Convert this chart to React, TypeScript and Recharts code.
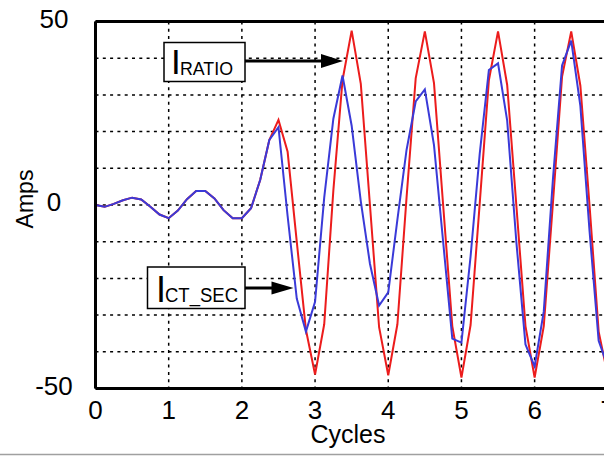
import { LineChart, Line, XAxis, YAxis, CartesianGrid, ReferenceLine } from 'recharts'

const FONT = '"Liberation Sans", Arial, sans-serif'

// time axis, 8 samples per cycle
const CYCLES = [
  0, 0.125, 0.25, 0.375, 0.5, 0.625, 0.75, 0.875,
  1, 1.125, 1.25, 1.375, 1.5, 1.625, 1.75, 1.875,
  2, 2.125, 2.25, 2.375, 2.5, 2.625, 2.75, 2.875,
  3, 3.125, 3.25, 3.375, 3.5, 3.625, 3.75, 3.875,
  4, 4.125, 4.25, 4.375, 4.5, 4.625, 4.75, 4.875,
  5, 5.125, 5.25, 5.375, 5.5, 5.625, 5.75, 5.875,
  6, 6.125, 6.25, 6.375, 6.5, 6.625, 6.75, 6.875,
  7, 7.125, 7.25,
]

const I_RATIO = [
  0, -0.5, 0.3, 1.3, 2.0, 1.5, -0.5, -2.6,
  -3.6, -1.5, 1.6, 3.8, 3.8, 1.8, -1.4, -3.6,
  -3.6, -0.9, 6.8, 17.7, 23.2, 14.5, -10, -34,
  -46.2, -32.5, 4, 34, 47.5, 33, 0, -33.3,
  -46.4, -32.5, 2, 34.5, 47.3, 33.2, 0, -33,
  -47, -32.7, 0.5, 34, 47.3, 32.7, 0, -33,
  -47, -33, 0.5, 35, 47.3, 32.5, 0, -34.5,
  -46.5, -33, 0,
]

const I_CT_SEC = [
  0, -0.5, 0.3, 1.3, 2.0, 1.5, -0.5, -2.6,
  -3.6, -1.5, 1.6, 3.8, 3.8, 1.8, -1.4, -3.6,
  -3.6, -0.9, 6.8, 17.7, 21.2, -3, -25.5, -34.5,
  -26.4, 2, 23.5, 35.3, 21.6, 1, -16, -27.4,
  -23.8, -4, 15, 28.2, 31.5, 16.3, -10, -36.4,
  -37.5, -14, 14, 36.8, 38.6, 23, -10, -38,
  -44, -29, 7, 38, 44.8, 27, -7, -37,
  -44, -30, 5,
]

const X_TICKS = [0, 1, 2, 3, 4, 5, 6, 7, 8]
const Y_TICKS = [-50, -40, -30, -20, -10, 0, 10, 20, 30, 40, 50]
const Y_LABELS = [-50, 0, 50]

const data = CYCLES.map((t, i) => ({ t, ratio: I_RATIO[i], ct: I_CT_SEC[i] }))

function XTick(props: any) {
  const { x, y, payload } = props
  return (
    <text x={x} y={y + 30.5} textAnchor="middle" fontSize={26} fontFamily={FONT} fill="#000">
      {payload.value}
    </text>
  )
}

function YTick(props: any) {
  const { x, y, payload } = props
  if (!Y_LABELS.includes(payload.value)) return <g />
  return (
    <text x={x - 41.5} y={y + 6.3} textAnchor="middle" fontSize={26} fontFamily={FONT} fill="#000">
      {payload.value}
    </text>
  )
}

function Annotations() {
  return (
    <svg
      width={604}
      height={456}
      style={{ position: 'absolute', left: 0, top: 0, pointerEvents: 'none' }}
      fontFamily={FONT}
    >
      <text x={348} y={443} textAnchor="middle" fontSize={25}>Cycles</text>
      <text x={0} y={0} textAnchor="middle" fontSize={23} transform="translate(33,199) rotate(-90)">
        Amps
      </text>

      <rect x={164} y={42.5} width={81} height={39} fill="#fff" stroke="#000" strokeWidth={1.5} />
      <text x={171} y={74} fontSize={35}>I</text>
      <text x={180} y={75} fontSize={19} textLength={53} lengthAdjust="spacingAndGlyphs">RATIO</text>
      <line x1={245} y1={61} x2={323} y2={61} stroke="#000" strokeWidth={3} />
      <polygon points="321,54 343,61 321,68" fill="#000" />

      <rect x={147.5} y={267} width={97.5} height={41.5} fill="#fff" stroke="#000" strokeWidth={1.5} />
      <text x={156} y={301.5} fontSize={36}>I</text>
      <text x={165} y={301.5} fontSize={20} textLength={73} lengthAdjust="spacingAndGlyphs">CT_SEC</text>
      <line x1={245} y1={288} x2={273} y2={288} stroke="#000" strokeWidth={3} />
      <polygon points="271.5,281.5 293.5,288 271.5,294.5" fill="#000" />

      <line x1={0} y1={454.5} x2={604} y2={454.5} stroke="#a0a0a0" strokeWidth={1.5} />
    </svg>
  )
}

export default function App() {
  return (
    <div
      style={{
        position: 'absolute',
        left: 0,
        top: 0,
        width: 604,
        height: 456,
        overflow: 'hidden',
        background: '#fff',
      }}
    >
      <LineChart width={681} height={456} data={data} margin={{ top: 21.5, right: 0, bottom: 0, left: 0 }}>
        <CartesianGrid stroke="#000" strokeWidth={1.5} strokeDasharray="3 4.3" />
        <XAxis
          dataKey="t"
          type="number"
          domain={[0, 8]}
          ticks={X_TICKS}
          height={67.5}
          tickLine={false}
          tickSize={0}
          tickMargin={0}
          axisLine={{ stroke: '#000', strokeWidth: 3 }}
          tick={<XTick />}
        />
        <YAxis
          type="number"
          domain={[-50, 50]}
          ticks={Y_TICKS}
          width={95.5}
          tickLine={false}
          tickSize={0}
          tickMargin={0}
          axisLine={{ stroke: '#000', strokeWidth: 3 }}
          tick={<YTick />}
        />
        <ReferenceLine y={50} stroke="#000" strokeWidth={3} />
        <Line
          dataKey="ratio"
          type="linear"
          stroke="#ec1c1c"
          strokeWidth={2}
          dot={false}
          isAnimationActive={false}
        />
        <Line
          dataKey="ct"
          type="linear"
          stroke="#3a3ad8"
          strokeWidth={2}
          dot={false}
          isAnimationActive={false}
        />
      </LineChart>
      <Annotations />
    </div>
  )
}
